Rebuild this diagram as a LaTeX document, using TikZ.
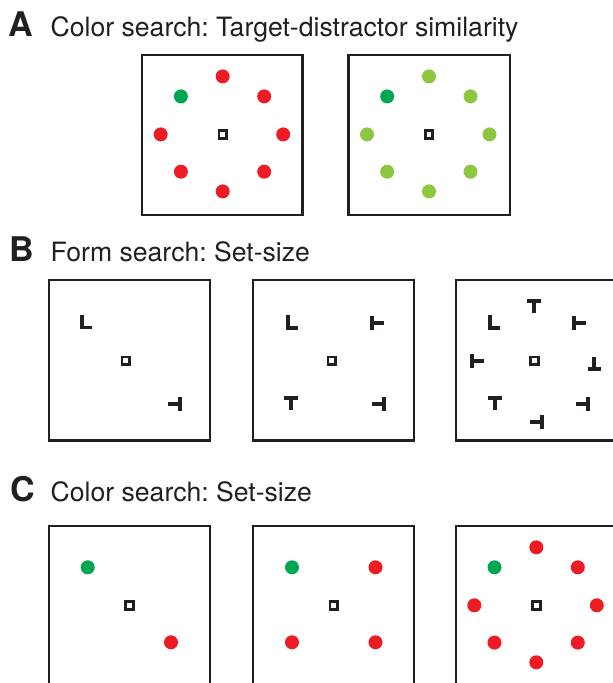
\documentclass[tikz,border=0pt]{standalone}
\usepackage{fontspec}
\setmainfont{TeX Gyre Heros}
\frenchspacing
\definecolor{ink}{HTML}{231F20}
\definecolor{dred}{HTML}{ED1C24}
\definecolor{dgreen}{HTML}{00A651}
\definecolor{lgreen}{HTML}{8DC63F}
\tikzset{
  panelbox/.style={draw=ink, line width=2.2pt},
  fixsq/.style={draw=ink, line width=2.8pt},
  letterlab/.style={inner sep=0pt, anchor=base west, text=ink, font=\fontsize{34}{40}\selectfont\bfseries},
  titlelab/.style={inner sep=0pt, anchor=base west, text=ink, font=\fontsize{26.6}{30}\selectfont},
  fix/.pic={\draw[fixsq] (-3.8,-3.8) rectangle (3.8,3.8);},
  Tup/.pic={\fill[ink] (-6.8,-7) rectangle (6.8,-3.1); \fill[ink] (-1.95,-3.1) rectangle (1.95,7);},
  Tdn/.pic={\fill[ink] (-6.8,3.1) rectangle (6.8,7); \fill[ink] (-1.95,-7) rectangle (1.95,3.1);},
  Tlf/.pic={\fill[ink] (-7,-6.8) rectangle (-3.1,6.8); \fill[ink] (-3.1,-1.95) rectangle (7,1.95);},
  Trt/.pic={\fill[ink] (3.1,-6.8) rectangle (7,6.8); \fill[ink] (-7,-1.95) rectangle (3.1,1.95);},
  Lsh/.pic={\fill[ink] (-5.8,-7.2) rectangle (-1.9,7.2); \fill[ink] (-1.9,3.3) rectangle (5.8,7.2);},
}
\newcommand{\octo}[3]{% center x, center y, distractor colour
  \fill[#3] (#1,#2) ++(0,-58) circle (7);
  \fill[#3] (#1,#2) ++(41.5,-38) circle (7);
  \fill[#3] (#1,#2) ++(60.5,0) circle (7);
  \fill[#3] (#1,#2) ++(41.5,37.3) circle (7);
  \fill[#3] (#1,#2) ++(0,57) circle (7);
  \fill[#3] (#1,#2) ++(-41.8,37.3) circle (7);
  \fill[#3] (#1,#2) ++(-62,0) circle (7);
  \fill[dgreen] (#1,#2) ++(-41.8,-38) circle (7);
  \pic at (#1,#2) {fix};
}
\begin{document}
\begin{tikzpicture}[x=1pt,y=-1pt]
\useasboundingbox (0,0) rectangle (613,683);
\clip (0,0) rectangle (613,683);
\fill[white] (0,0) rectangle (613,683);

% Panel A
\node[letterlab] (la) at (8.6,36) {A};
\node[titlelab] (ta) at (50.5,36) {Color search: Target-distractor similarity};
\draw[panelbox] (142,55) rectangle (302.5,215);
\draw[panelbox] (348.5,55) rectangle (510,215);
\octo{222.7}{134.4}{dred}
\octo{429}{134.4}{lgreen}

% Panel B
\node[letterlab] (lb) at (9,261) {B};
\node[titlelab] (tb) at (50.5,261) {Form search: Set-size};
\draw[panelbox] (49,280) rectangle (210,440.5);
\draw[panelbox] (253.3,280) rectangle (414,440.5);
\draw[panelbox] (456,280) rectangle (617,440.5);
% B1
\pic at (125.7,360.7) {fix};
\pic at (85.8,322.2) {Lsh};
\pic at (174.5,403.7) {Trt};
% B2
\pic at (331.7,360.7) {fix};
\pic at (291.7,322.3) {Lsh};
\pic at (377,322.7) {Tlf};
\pic at (290.7,403.3) {Tup};
\pic at (379.3,404) {Trt};
% B3
\pic at (534.3,360.7) {fix};
\pic at (534,306) {Tup};
\pic at (494,322.3) {Lsh};
\pic at (579.3,322.7) {Tlf};
\pic at (477.3,360.7) {Tlf};
\pic at (594.3,364) {Tdn};
\pic at (495,402.7) {Tup};
\pic at (583.3,404) {Trt};
\pic at (536.7,421.7) {Trt};

% Panel C
\node[letterlab] (lc) at (10,501.5) {C};
\node[titlelab] (tc) at (50.5,501.5) {Color search: Set-size};
\draw[panelbox] (49,525.7) rectangle (210,690);
\draw[panelbox] (253.3,525.7) rectangle (414,690);
\draw[panelbox] (456,525.7) rectangle (617,690);
% C1
\fill[dgreen] (87.7,567.3) circle (7);
\fill[dred] (171,642.3) circle (7);
\pic at (129.3,605.3) {fix};
% C2
\fill[dgreen] (292,567.3) circle (7);
\fill[dred] (375.5,567.3) circle (7);
\fill[dred] (292,642.3) circle (7);
\fill[dred] (375.5,642.3) circle (7);
\pic at (333.7,605.3) {fix};
% C3
\octo{536.3}{605.3}{dred}
\end{tikzpicture}
\end{document}
